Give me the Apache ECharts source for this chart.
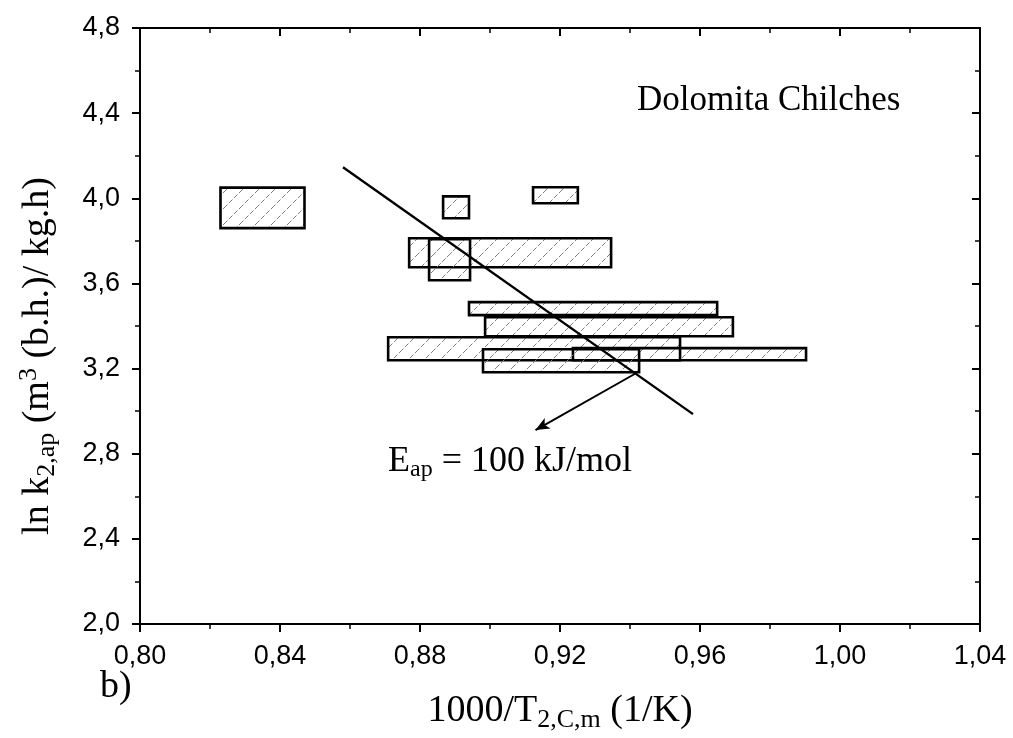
<!DOCTYPE html>
<html>
<head>
<meta charset="utf-8">
<script src="https://cdn.jsdelivr.net/npm/echarts@6/dist/echarts.min.js"></script>
<style>
html,body{margin:0;padding:0;background:#fff;}
#chart{width:1013px;height:738px;}
</style>
</head>
<body>
<div id="chart"></div>
<script>
// Rectangles (ranges)
const rectXMin = [0.823, 0.8866, 0.9123, 0.8769, 0.8826, 0.8940, 0.8986, 0.8709, 0.9237, 0.8980];
const rectXMax = [0.847, 0.8940, 0.9251, 0.9346, 0.8943, 0.9649, 0.9694, 0.9543, 0.9903, 0.9426];
const rectYMin = [3.860, 3.906, 3.977, 3.676, 3.615, 3.451, 3.352, 3.239, 3.239, 3.183];
const rectYMax = [4.050, 4.009, 4.052, 3.812, 3.808, 3.512, 3.441, 3.347, 3.296, 3.291];

// Activation energy line
const lineX = [0.858, 0.958];
const lineY = [4.146, 2.986];

// Arrow pointing to label
const arrowFrom = [0.9417, 3.178];
const arrowTo = [0.913, 2.911];

const xTicks = ['0,80','0,84','0,88','0,92','0,96','1,00','1,04'];
const yTicks = ['2,0','2,4','2,8','3,2','3,6','4,0','4,4','4,8'];

function fmt(v, d){ return v.toFixed(d).replace('.', ','); }

// hatch pattern
const pc = document.createElement('canvas');
pc.width = 16; pc.height = 16;
const g = pc.getContext('2d');
g.strokeStyle = '#808080';
g.lineWidth = 1;
g.setLineDash([5,2]);
g.beginPath();
g.moveTo(0,16); g.lineTo(16,0);
g.moveTo(-1,1); g.lineTo(1,-1);
g.moveTo(15,17); g.lineTo(17,15);
g.stroke();

const rectData = rectXMin.map((v,i)=>[v, rectXMax[i], rectYMin[i], rectYMax[i]]);

const chart = echarts.init(document.getElementById('chart'), null, {renderer:'canvas'});
const serif = '"Liberation Serif","Times New Roman",serif';
const sans = '"Liberation Sans",Arial,sans-serif';

const option = {
  animation: false,
  backgroundColor: '#fff',
  grid: {left:140, right:33, top:28, bottom:114, containLabel:false},
  xAxis: [{
    type:'value', min:0.80, max:1.04, interval:0.04, position:'bottom',
    axisLine:{lineStyle:{color:'#000', width:2}},
    axisTick:{inside:false, length:8, lineStyle:{color:'#000', width:2}},
    minorTick:{show:true, splitNumber:2, length:5, lineStyle:{color:'#000', width:1.5}},
    splitLine:{show:false},
    axisLabel:{color:'#000', fontFamily:sans, fontSize:27, margin:19, formatter:v=>fmt(v,2)},
    name:'1000/T{sub|2,C,m} (1/K)', nameLocation:'middle', nameGap:65,
    nameTextStyle:{color:'#000', fontFamily:serif, fontSize:38,
      rich:{sub:{fontFamily:serif, fontSize:26, verticalAlign:'bottom', padding:[18,0,0,0]}}}
  },{
    type:'value', min:0.80, max:1.04, interval:0.04, position:'top',
    axisLine:{lineStyle:{color:'#000', width:2}},
    axisTick:{inside:true, length:8, lineStyle:{color:'#000', width:2}},
    minorTick:{show:true, splitNumber:2, length:5, lineStyle:{color:'#000', width:1.5}},
    splitLine:{show:false}, axisLabel:{show:false}
  }],
  yAxis: [{
    type:'value', min:2.0, max:4.8, interval:0.4, position:'left',
    axisLine:{lineStyle:{color:'#000', width:2}},
    axisTick:{inside:false, length:8, lineStyle:{color:'#000', width:2}},
    minorTick:{show:true, splitNumber:2, length:5, lineStyle:{color:'#000', width:1.5}},
    splitLine:{show:false},
    axisLabel:{color:'#000', fontFamily:sans, fontSize:27, margin:20, formatter:v=>fmt(v,1)},
    name:'ln k{sub|2,ap} (m{sup|3} (b.h.)/ kg.h)', nameLocation:'middle', nameGap:80,
    nameTextStyle:{color:'#000', fontFamily:serif, fontSize:38, padding:[0,60,0,0],
      rich:{sub:{fontFamily:serif, fontSize:26, verticalAlign:'bottom', padding:[18,0,0,0]},
            sup:{fontFamily:serif, fontSize:26, verticalAlign:'top', padding:[0,0,18,0]}}}
  },{
    type:'value', min:2.0, max:4.8, interval:0.4, position:'right',
    axisLine:{lineStyle:{color:'#000', width:2}},
    axisTick:{inside:true, length:8, lineStyle:{color:'#000', width:2}},
    minorTick:{show:true, splitNumber:2, length:5, lineStyle:{color:'#000', width:1.5}},
    splitLine:{show:false}, axisLabel:{show:false}
  }],
  series: [{
    type:'custom',
    xAxisIndex:0, yAxisIndex:0,
    data: rectData,
    encode:{x:[0,1], y:[2,3]},
    renderItem: function(params, api){
      const p1 = api.coord([api.value(0), api.value(3)]);
      const p2 = api.coord([api.value(1), api.value(2)]);
      return {
        type:'rect',
        shape:{x:p1[0], y:p1[1], width:p2[0]-p1[0], height:p2[1]-p1[1]},
        style:{fill:{image:pc, repeat:'repeat'}, stroke:'#000', lineWidth:2.6}
      };
    }
  },{
    type:'line',
    xAxisIndex:0, yAxisIndex:0,
    data: lineX.map((v,i)=>[v, lineY[i]]),
    symbol:'none',
    lineStyle:{color:'#000', width:2.4},
    markLine:{
      silent:true, symbolSize:[9,14],
      lineStyle:{color:'#000', width:2, type:'solid'},
      label:{show:false},
      data:[[{coord:arrowFrom, symbol:'none'},{coord:arrowTo, symbol:'arrow'}]]
    }
  }],
  graphic: [
    {type:'text', left:637, top:83, style:{text:'Dolomita Chilches', font:'35px '+serif, fill:'#000'}},
    {type:'text', left:388, top:444, style:{
      text:'E{sub|ap} = 100 kJ/mol', font:'36px '+serif, fill:'#000',
      rich:{sub:{fontFamily:serif, fontSize:24, verticalAlign:'bottom', padding:[16,0,0,0]}}}},
    {type:'text', left:100, top:668, style:{text:'b)', font:'38px '+serif, fill:'#000'}}
  ]
};
chart.setOption(option);
</script>
</body>
</html>
